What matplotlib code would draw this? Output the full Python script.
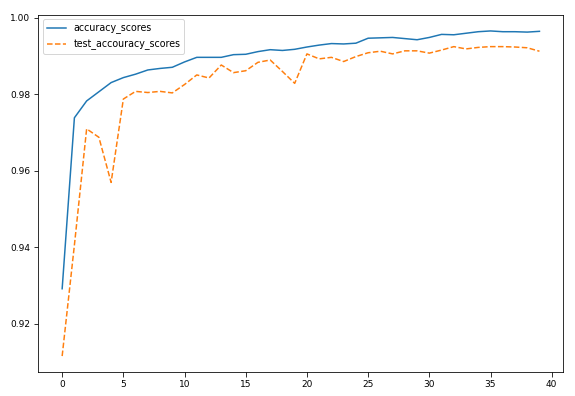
import matplotlib
matplotlib.use("Agg")
import matplotlib.pyplot as plt
import numpy as np

# scores per epoch
accuracy_scores = [
    0.9291, 0.9738, 0.9782, 0.9806, 0.9830, 0.9843, 0.9852, 0.9863, 0.9867, 0.9870,
    0.9884, 0.9896, 0.9896, 0.9896, 0.9903, 0.9904, 0.9911, 0.9916, 0.9914, 0.9917,
    0.9923, 0.9928, 0.9932, 0.9931, 0.9933, 0.9946, 0.9947, 0.9948, 0.9945, 0.9942,
    0.9948, 0.9956, 0.9955, 0.9959, 0.9963, 0.9965, 0.9963, 0.9963, 0.9962, 0.9964,
]
test_accouracy_scores = [
    0.9115, 0.9405, 0.9709, 0.9687, 0.9569, 0.9787, 0.9807, 0.9804, 0.9807, 0.9803,
    0.9825, 0.9850, 0.9842, 0.9876, 0.9856, 0.9861, 0.9883, 0.9889, 0.9859, 0.9828,
    0.9905, 0.9892, 0.9896, 0.9885, 0.9898, 0.9908, 0.9912, 0.9905, 0.9913, 0.9913,
    0.9907, 0.9915, 0.9924, 0.9918, 0.9922, 0.9924, 0.9924, 0.9923, 0.9921, 0.9912,
]

plt.rcParams["font.size"] = 9
plt.rcParams["xtick.major.size"] = 4.5
plt.rcParams["ytick.major.size"] = 4.5

fig = plt.figure(figsize=(575 / 72, 396 / 72), dpi=72)
ax = fig.add_axes([0.0666, 0.0598, 0.9131, 0.9031])

ax.plot(accuracy_scores, label="accuracy_scores")
ax.plot(test_accouracy_scores, "--", label="test_accouracy_scores")
ax.legend(loc="upper left", fontsize=9.5)

fig.savefig("out.png", dpi=72)
